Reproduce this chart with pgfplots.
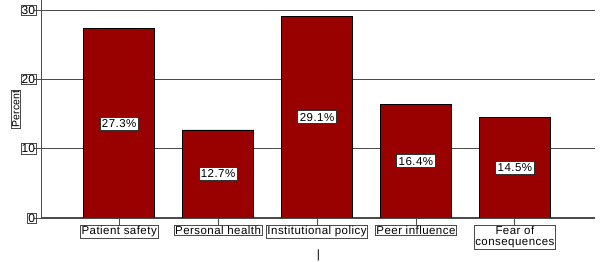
\documentclass[border=0pt]{standalone}
\usepackage{pgfplots}
\pgfplotsset{compat=1.18}
\usepackage{fontspec}
\setmainfont{Liberation Sans}
\definecolor{barred}{HTML}{990000}
\begin{document}
\begin{tikzpicture}[x=1pt,y=1pt]
\useasboundingbox (-42,-44) rectangle (558,218);
\begin{axis}[
  at={(0,0)}, anchor=south west,
  scale only axis, width=553pt, height=218pt,
  xmin=-0.78, xmax=4.81, ymin=0, ymax=31.45,
  axis x line*=bottom, axis y line*=left,
  axis line style={draw=black!70, line width=1pt},
  xtick=data,
  xticklabels={Patient safety,Personal health,Institutional policy,Peer influence,{Fear of\\consequences}},
  ytick={0,10,20,30},
  tick align=outside,
  major tick length=8pt,
  tick style={draw=black!70, line width=0.8pt},
  ymajorgrids, grid style={draw=black!70, line width=0.8pt},
  /pgf/number format/assume math mode=true,
  xticklabel style={draw=black!70, inner sep=1pt, align=center, yshift=1pt, font=\fontsize{11.5}{11}\selectfont\addfontfeatures{LetterSpace=4}},
  yticklabel style={draw=black!70, inner sep=0.8pt, font=\fontsize{12}{12}\selectfont, xshift=2pt},
  xlabel={\textbar}, xlabel style={yshift=3pt, font=\fontsize{12}{12}\selectfont},
  ylabel={Percent}, ylabel style={draw=black!70, inner sep=1pt, font=\fontsize{10.5}{10.5}\selectfont, yshift=0pt},
  enlarge x limits=false,
]
\addplot[ybar, bar width=71pt, fill=barred, draw=black, line width=0.6pt,
  nodes near coords={\pgfmathprintnumber[fixed,fixed zerofill,precision=1]{\pgfplotspointmeta}\%},
  visualization depends on={y \as \rawy},
  every node near coord/.append style={anchor=center, fill=white, draw=black!80, inner xsep=2pt, inner ysep=2.5pt, font=\fontsize{11.5}{11.5}\selectfont\addfontfeatures{LetterSpace=4}, shift={(axis direction cs:0,-\rawy/2)}},
] coordinates {(0,27.3) (1,12.7) (2,29.1) (3,16.4) (4,14.5)};
\end{axis}
\end{tikzpicture}
\end{document}
